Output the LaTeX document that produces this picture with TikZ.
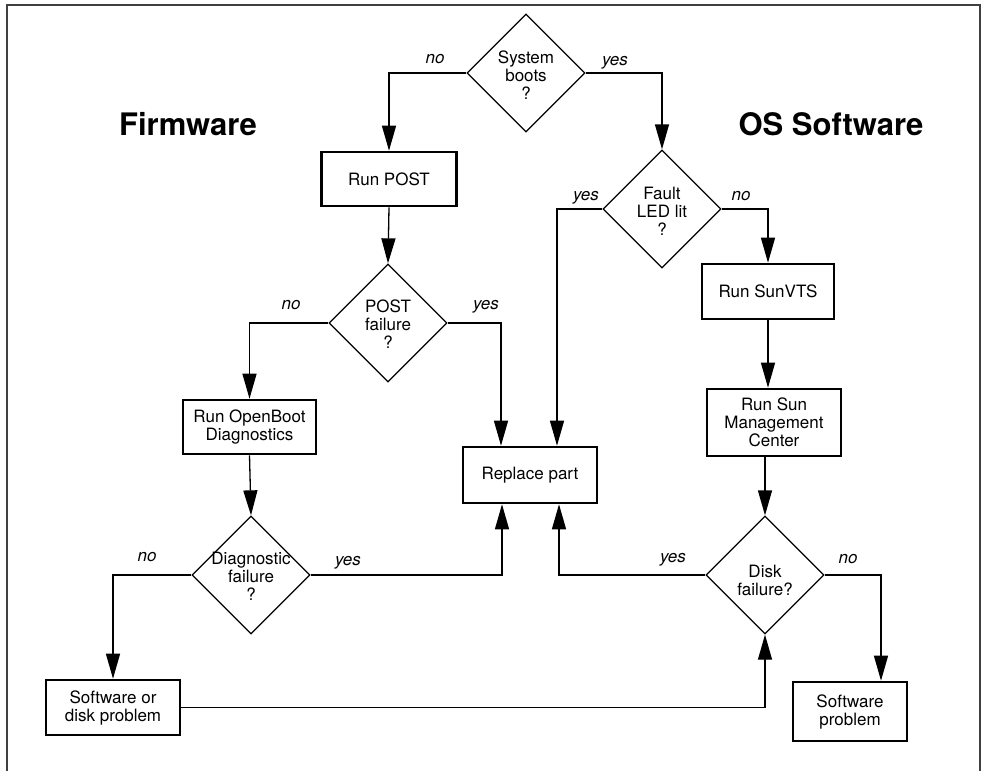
\documentclass[tikz,border=0pt]{standalone}
\usepackage{fontspec}
\setmainfont{TeX Gyre Heros}
\usetikzlibrary{arrows.meta,shapes.geometric}

\begin{document}
\begin{tikzpicture}[x=1pt, y=-1pt, >={Triangle[length=25pt,width=14pt]},
    every node/.style={font=\fontsize{17}{18}\selectfont},
    box/.style={draw, line width=2.6pt, align=center, inner sep=0pt},
    decision/.style={draw, diamond, line width=1.3pt, minimum width=118pt, minimum height=118pt, inner sep=0pt},
    qtext/.style={align=center, inner sep=0pt},
    lbl/.style={font=\fontsize{17}{18}\selectfont\itshape, anchor=base, inner sep=0pt},
    title/.style={font=\fontsize{31}{36}\selectfont\bfseries, anchor=base, inner sep=0pt},
    link/.style={line width=1.3pt},
    arr/.style={link, ->}]
    \useasboundingbox (0,0) rectangle (985,771);
    \draw[black!75, line width=1.5pt] (7,771) -- (7,5) -- (980,5) -- (980,771);

    \node[title] (fw) at (188,135) {Firmware};
    \node[title] (os) at (831,135) {OS Software};

    \node[decision] (boots) at (526,73) {};
    \node[qtext] (boots-q) at (526,75) {System\\boots\\?};
    \node[box, minimum width=135pt, minimum height=54pt] (post) at (389,179) {Run POST};
    \node[decision] (postfail) at (388,323) {};
    \node[qtext] (postfail-q) at (388,324) {POST\\failure\\?};
    \node[box, minimum width=133pt, minimum height=54pt] (obd) at (249.5,427) {Run OpenBoot\\Diagnostics};
    \node[decision] (diagfail) at (251,575) {};
    \node[qtext] (diagfail-q) at (251,576) {Diagnostic\\failure\\?};
    \node[box, minimum width=134pt, minimum height=55pt] (swdisk) at (113,707.5) {Software or\\disk problem};
    \node[box, minimum width=134pt, minimum height=56pt] (replace) at (530,475) {Replace part};
    \node[decision] (fault) at (662,209) {};
    \node[qtext] (fault-q) at (662,211) {Fault\\LED lit\\?};
    \node[box, minimum width=132pt, minimum height=55pt] (vts) at (768,291.5) {Run SunVTS};
    \node[box, minimum width=134pt, minimum height=67pt] (smc) at (774,422.5) {Run Sun\\Management\\Center};
    \node[decision] (diskfail) at (765,575) {};
    \node[qtext] (diskfail-q) at (765,580) {Disk\\failure?};
    \node[box, minimum width=114pt, minimum height=59pt] (swprob) at (850,711.5) {Software\\problem};

    \draw[arr] (boots.west) -| (post.north);
    \draw[arr] (boots.east) -| (fault.north);
    \draw[arr] (post.south) -- (postfail.north);
    \draw[arr] (postfail.west) -| (obd.north);
    \draw[arr] (postfail.east) -| ([xshift=-29pt]replace.north);
    \draw[arr] (obd.south) -- (diagfail.north);
    \draw[arr] (diagfail.west) -| (swdisk.north);
    \draw[arr] (diagfail.east) -| ([xshift=-28pt]replace.south);
    \draw[arr] (fault.west) -| ([xshift=27pt]replace.north);
    \draw[arr] (fault.east) -| (vts.north);
    \draw[arr] (vts.south) -- (vts.south |- smc.north);
    \draw[arr] (diskfail.north |- smc.south) -- (diskfail.north);
    \draw[arr] (diskfail.west) -| ([xshift=29pt]replace.south);
    \draw[arr] (diskfail.east) -| ([xshift=31pt]swprob.north);
    \draw[arr] (swdisk.east) -| (diskfail.south);

    \node[lbl] (boots-no) at (435,63) {no};
    \node[lbl] (boots-yes) at (615,65) {yes};
    \node[lbl] (post-no) at (291,309) {no};
    \node[lbl] (post-yes) at (486,309) {yes};
    \node[lbl] (diag-no) at (147,561) {no};
    \node[lbl] (diag-yes) at (348,565) {yes};
    \node[lbl] (fault-yes) at (586,200) {yes};
    \node[lbl] (fault-no) at (741,200) {no};
    \node[lbl] (disk-yes) at (673,562) {yes};
    \node[lbl] (disk-no) at (848,563) {no};
\end{tikzpicture}
\end{document}
